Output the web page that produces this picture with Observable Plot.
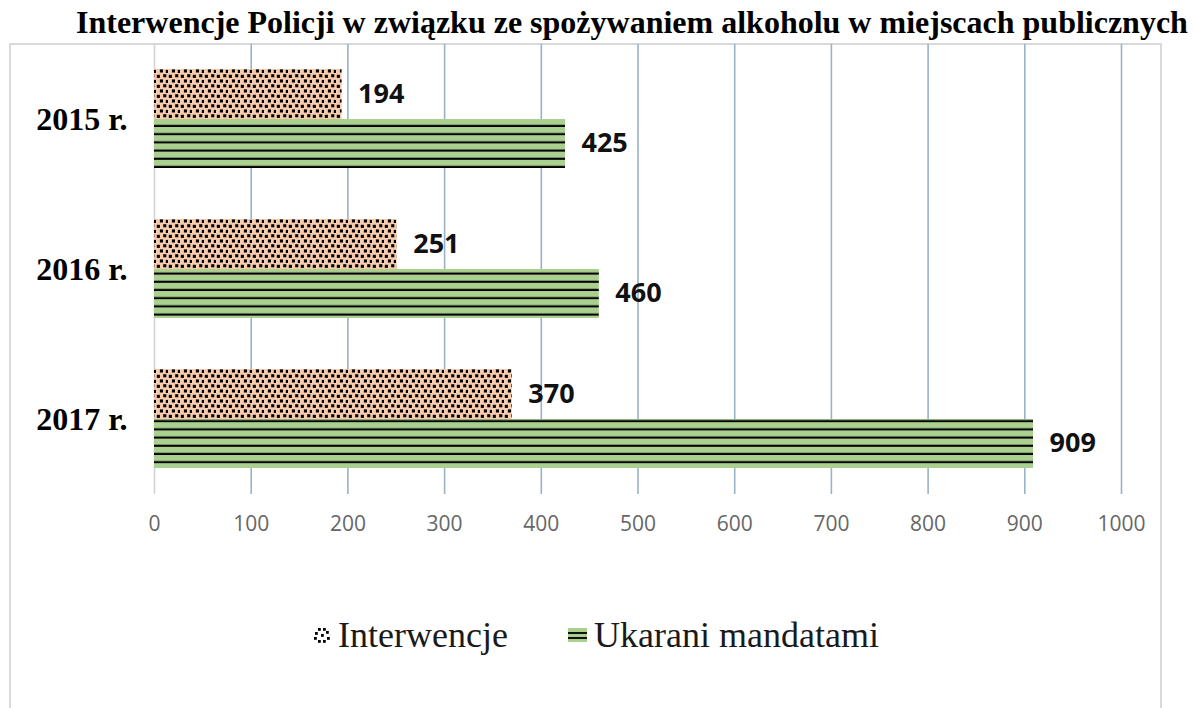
<!DOCTYPE html>
<html>
<head>
<meta charset="utf-8">
<script src="https://cdn.jsdelivr.net/npm/d3@7"></script>
<script src="https://cdn.jsdelivr.net/npm/@observablehq/plot@0.6"></script>
<style>
  html, body { margin: 0; padding: 0; background: #fff; }
  body { width: 1193px; height: 708px; position: relative; overflow: hidden; }
  #title { position: absolute; left: 76px; top: 6px; font: bold 32px/32px "Liberation Serif", "Times New Roman", serif; color: #000; white-space: nowrap; }
  #frame { position: absolute; left: 9px; top: 43px; width: 1153px; height: 720px; box-sizing: border-box; border: 2px solid #d9d9d9; }
  #chart { position: absolute; left: 0; top: 44px; }
  .leg { position: absolute; font: 36px/36px "Liberation Serif", "Times New Roman", serif; color: #1a1a1a; white-space: nowrap; }
  .icon { position: absolute; }
</style>
</head>
<body>
<div id="title">Interwencje Policji w związku ze spożywaniem alkoholu w miejscach publicznych</div>
<div id="frame"></div>
<div id="chart"></div>
<div id="legend"></div>
<script>
// ---- data ----
const years = ["2015 r.", "2016 r.", "2017 r."];
const interwencje = [194, 251, 370];
const ukarani = [425, 460, 909];
const seriesNames = ["Interwencje", "Ukarani mandatami"];
const xTicks = [0, 100, 200, 300, 400, 500, 600, 700, 800, 900, 1000];

const rowsI = years.map((y, i) => ({year: y, series: seriesNames[0], value: interwencje[i]}));
const rowsU = years.map((y, i) => ({year: y, series: seriesNames[1], value: ukarani[i]}));

const labelFont = "'Open Sans', 'Liberation Sans', sans-serif";

const svg = Plot.plot({
  width: 1193,
  height: 500,
  marginLeft: 154,
  marginRight: 72,
  marginTop: 0,
  marginBottom: 50,
  style: {background: "transparent", overflow: "visible"},
  x: {domain: [0, 1000]},
  y: {domain: years, padding: 0},
  marks: [
    Plot.gridX(xTicks.filter(t => t > 0), {stroke: "#98b2c8", strokeOpacity: 1, strokeWidth: 1.6}),
    Plot.ruleX([0], {stroke: "#d4d4d4", strokeWidth: 1.6}),
    Plot.barX(rowsI, {x: "value", y: "year", fill: "url(#dots)", insetTop: 25, insetBottom: 75}),
    Plot.barX(rowsU, {x: "value", y: "year", fill: "url(#hlines)", insetTop: 75, insetBottom: 26}),
    Plot.text(rowsI, {x: "value", y: "year", text: d => String(d.value), dx: 16, dy: -25, textAnchor: "start",
      fontSize: 27, fontWeight: "bold", fontFamily: labelFont, fill: "#111"}),
    Plot.text(rowsU, {x: "value", y: "year", text: d => String(d.value), dx: 16, dy: 24, textAnchor: "start",
      fontSize: 27, fontWeight: "bold", fontFamily: labelFont, fill: "#111"}),
    Plot.axisX({ticks: xTicks, tickSize: 0, tickPadding: 22, label: null, fontSize: 21,
      fontFamily: labelFont, fill: "#666", tickFormat: d => String(d)}),
    Plot.axisY({tickSize: 0, tickPadding: 27, label: null, fontSize: 32, fontWeight: "bold",
      fontFamily: "'Liberation Serif', 'Times New Roman', serif", fill: "#000"})
  ]
});

// patterns
const defs = d3.select(svg).insert("defs", ":first-child");
const pd = defs.append("pattern").attr("id", "dots").attr("patternUnits", "userSpaceOnUse")
  .attr("width", 12).attr("height", 10);
pd.append("rect").attr("width", 12).attr("height", 10).attr("fill", "#f7cbad");
[[0.8, 0.8], [7.2, 0.2], [3.9, 5.4], [9.8, 5.9]].forEach(([x, y]) =>
  pd.append("rect").attr("x", x).attr("y", y).attr("width", 3.1).attr("height", 3.1).attr("fill", "#000"));
const ph = defs.append("pattern").attr("id", "hlines").attr("patternUnits", "userSpaceOnUse")
  .attr("width", 20).attr("height", 8.2).attr("y", 1);
ph.append("rect").attr("width", 20).attr("height", 8.2).attr("fill", "#a9d08e");
ph.append("rect").attr("y", 6.1).attr("width", 20).attr("height", 2.1).attr("fill", "#000");

document.getElementById("chart").appendChild(svg);

// legend
const legend = document.getElementById("legend");
function icon(x, kind) {
  const s = d3.create("svg").attr("class", "icon").attr("width", 19).attr("height", 16)
    .style("left", x + "px").style("top", "627px");
  if (kind === 0) {
    s.append("rect").attr("width", 19).attr("height", 16).attr("fill", "#fff");
    [[5, 1], [10, 1], [2, 5], [13, 4], [1, 10], [14, 10], [5, 13], [10, 13], [8, 7]].forEach(([x, y]) =>
      s.append("rect").attr("x", x).attr("y", y).attr("width", 2.8).attr("height", 2.8).attr("fill", "#000"));
  } else {
    s.append("rect").attr("y", 1).attr("width", 19).attr("height", 14).attr("fill", "#a9d08e");
    s.append("rect").attr("y", 5).attr("width", 19).attr("height", 2).attr("fill", "#111");
    s.append("rect").attr("y", 10).attr("width", 19).attr("height", 2).attr("fill", "#111");
  }
  legend.appendChild(s.node());
}
function label(x, t) {
  const d = document.createElement("div");
  d.className = "leg";
  d.style.left = x + "px";
  d.style.top = "617px";
  d.textContent = t;
  legend.appendChild(d);
}
icon(313, 0); label(338, seriesNames[0]);
icon(568, 1); label(594, seriesNames[1]);
</script>
</body>
</html>
